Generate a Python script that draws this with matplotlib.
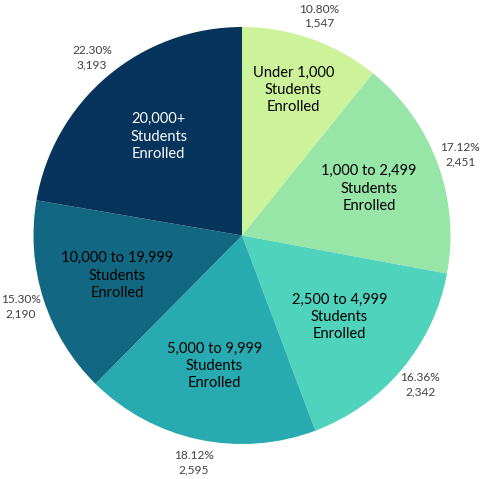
import numpy as np
import matplotlib.pyplot as plt

# slices, clockwise from 12 o'clock
categories = ["Under 1,000\nStudents\nEnrolled",
              "1,000 to 2,499\nStudents\nEnrolled",
              "2,500 to 4,999\nStudents\nEnrolled",
              "5,000 to 9,999\nStudents\nEnrolled",
              "10,000 to 19,999\nStudents\nEnrolled",
              "20,000+\nStudents\nEnrolled"]
counts = [1547, 2451, 2342, 2595, 2190, 3193]
percents = [10.80, 17.12, 16.36, 18.12, 15.30, 22.30]
colors = ["#CCF29A", "#98E5A8", "#50D3BC", "#27AAB0", "#126882", "#06345C"]
inner_text_colors = ["black", "black", "black", "black", "black", "white"]
# how far out (fraction of radius) each category label sits
inner_dist = [0.74, 0.65, 0.61, 0.64, 0.63, 0.62]

W, H = 501, 479
fig = plt.figure(figsize=(W / 100, H / 100), dpi=100)
ax = fig.add_axes([0, 0, 1, 1])

cx, cy, r = 242, H - 235.5, 208.5
outer = [f"{p:.2f}%\n{c:,}" for p, c in zip(percents, counts)]

wedges, texts = ax.pie(counts, colors=colors, startangle=90, counterclock=False,
                       center=(cx, cy), radius=r, labels=outer, labeldistance=1.115,
                       wedgeprops=dict(linewidth=0),
                       textprops=dict(fontsize=8.6, color="#404040", family="Lato",
                                      ha="center", va="center", linespacing=1.35))
for t in texts:
    t.set_horizontalalignment("center")

ax.set_xlim(0, W)
ax.set_ylim(0, H)
ax.set_aspect("equal")
ax.axis("off")

# inner category labels
for w, name, tc, f in zip(wedges, categories, inner_text_colors, inner_dist):
    ang = np.deg2rad((w.theta1 + w.theta2) / 2)
    ax.text(cx + f * r * np.cos(ang), cy + f * r * np.sin(ang), name,
            ha="center", va="center", fontsize=10.5, color=tc, family="Lato",
            linespacing=1.3)

fig.savefig("out.png", dpi=100)
